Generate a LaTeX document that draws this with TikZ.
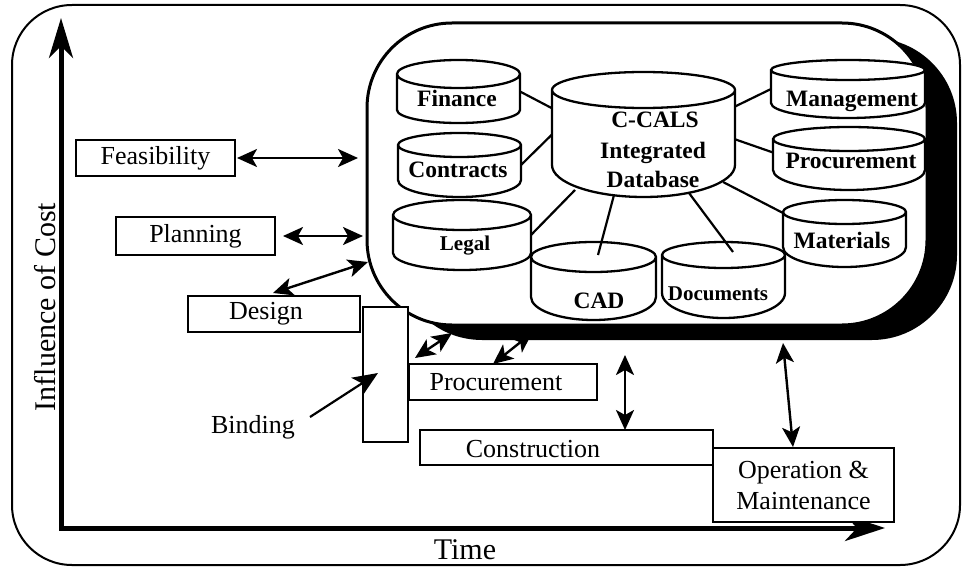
\documentclass[tikz,border=0pt]{standalone}
\usepackage{fontspec}
\setmainfont{Liberation Serif}
\usetikzlibrary{calc,arrows.meta}

\newcommand\dbcyl[3]{%
  \draw[cylline] let \p1=(#1.north west), \p2=(#1.south east), \n1={(\x2-\x1)/2} in
    (\x1,\y1-#2pt) -- (\x1,\y2+#3pt)
    arc[start angle=180,end angle=360,x radius=\n1,y radius=#3pt]
    -- (\x2,\y1-#2pt)
    arc[start angle=0,end angle=180,x radius=\n1,y radius=#2pt] -- cycle
    (\x1,\y1-#2pt) arc[start angle=180,end angle=360,x radius=\n1,y radius=#2pt];}

\newcommand\mkcyl[7]{%
  \node[cylbox, minimum width={(#4-#2)*1pt}, minimum height={(#5-#3)*1pt}] (#1) at ({(#2+#4)/2},{(#3+#5)/2}) {};
  \dbcyl{#1}{#6}{#7}}

\begin{document}
\begin{tikzpicture}[x=1pt,y=-1pt,
  every node/.style={inner sep=0pt, outer sep=0pt},
  cylbox/.style={draw=none},
  cylline/.style={draw, line width=2.3pt, fill=white},
  box/.style={draw, line width=2.5pt, fill=white, font=\fontsize{26}{31}\selectfont},
  dblab/.style={font=\fontsize{23.5}{29}\selectfont\bfseries},
  conn/.style={line width=2.2pt},
  dbl/.style={line width=2.4pt, {Stealth[length=20pt,width=18pt,inset=5pt]}-{Stealth[length=20pt,width=18pt,inset=5pt]}},
  sgl/.style={line width=2.2pt, -{Stealth[length=25pt,width=21pt,inset=6pt]}},
  axis/.style={line width=5pt, {Stealth[length=40pt,width=24pt,inset=12pt]}-{Stealth[length=40pt,width=26pt,inset=12pt]}},
  big/.style={font=\fontsize{30}{34}\selectfont}
]
\useasboundingbox (0,0) rectangle (963,567);
\fill[white] (0,0) rectangle (963,567);

% outer frame
\node[draw, line width=2pt, rounded corners=60pt, minimum width=948pt, minimum height=560pt] (frame) at (486,285) {};

% database container with shadow
\node[fill=black, rounded corners=85pt, minimum width=560pt, minimum height=302pt] (shadow) at (677,189) {};
\node[draw, line width=3pt, fill=white, rounded corners=85pt, minimum width=560pt, minimum height=302pt] (cont) at (647,174) {};

% cylinders
\mkcyl{fin}{397}{60}{520}{123}{14}{13}
\mkcyl{con}{398}{133}{521}{197}{12}{17}
\mkcyl{leg}{393}{200}{531}{270}{15}{17}
\mkcyl{cad}{531}{242}{656}{320}{15}{23}
\mkcyl{doc}{662}{242}{785}{318}{13}{25}
\mkcyl{mat}{783}{200}{906}{267}{12}{20}
\mkcyl{pro}{773}{127}{925}{190}{12}{20}
\mkcyl{man}{771}{60}{925}{118}{10}{15}
\mkcyl{cen}{552}{72}{735}{197}{18}{32}

% connectors from central database
\draw[conn] (cen.164) -- (fin.east);
\draw[conn] (cen.west) -- (con.east);
\draw[conn] ($(cen.south west)+(23,-7)$) -- (leg.east);
\draw[conn] ($(cen.south)+(-29.5,-2)$) -- ($(cad.north)+(4.5,13)$);
\draw[conn] ($(cen.south)+(45.5,-4)$) -- ($(doc.north)+(9.5,10)$);
\draw[conn] ($(cen.south east)+(-12,-15)$) -- ($(mat.north west)+(0,13)$);
\draw[conn] (cen.-3) -- ($(pro.west)+(0,-6)$);
\draw[conn] (cen.17) -- (man.west);

% database labels
\node[dblab, anchor=base] (finl) at (457,107) {Finance};
\node[dblab, anchor=base] (conl) at (458,177) {Contracts};
\node[dblab, anchor=base, font=\fontsize{21}{25}\selectfont\bfseries] (legl) at (465,250) {Legal};
\node[dblab, anchor=base] (cadl) at (599,308) {CAD};
\node[dblab, anchor=base, font=\fontsize{21}{25}\selectfont\bfseries] (docl) at (718,300) {Documents};
\node[dblab, anchor=base] (matl) at (842,248) {Materials};
\node[dblab, anchor=base] (prol) at (851,168) {Procurement};
\node[dblab, anchor=base] (manl) at (852,107) {Management};
\node[dblab, anchor=base] (cen1) at (655,128) {C-CALS};
\node[dblab, anchor=base] (cen2) at (653,158) {Integrated};
\node[dblab, anchor=base] (cen3) at (653,187) {Database};

% axes
\coordinate (orig) at (61,528);
\coordinate (ytip) at (61,18);
\coordinate (xtip) at (885,528);
\draw[axis] (ytip) -- (orig) -- (xtip);
\node[big, rotate=90] (ylab) at (45,307) {Influence of Cost};
\node[big, anchor=base] (xlab) at (465,559) {Time};

% phase boxes
\node[box, minimum width=159pt, minimum height=36pt] (feas) at (155.5,158) {Feasibility};
\node[box, minimum width=159pt, minimum height=38pt] (plan) at (195.5,236) {Planning};
\node[box, minimum width=172pt, minimum height=36pt] (design) at (274,314) {};
\node[font=\fontsize{26}{31}\selectfont] (designl) at (266,314) {Design};
\node[box, minimum width=45pt, minimum height=135pt] (binding) at (385.5,374.5) {};
\node[box, minimum width=188pt, minimum height=36pt] (proc) at (503,382) {};
\node[font=\fontsize{26}{31}\selectfont] (procl) at (496,382) {Procurement};
\node[box, minimum width=293pt, minimum height=35pt] (constr) at (566.5,447.5) {};
\node[font=\fontsize{26}{31}\selectfont] (constrl) at (533,449) {Construction};
\node[box, minimum width=181pt, minimum height=74pt, align=center] (om) at (803.5,485) {Operation \&\\Maintenance};
\node[font=\fontsize{26}{31}\selectfont, anchor=base] (bindl) at (253,433) {Binding};

% arrows
\draw[dbl, shorten <=2pt, shorten >=9pt] (feas.east) -- (feas.east -| cont.west);
\draw[dbl, shorten <=8pt, shorten >=4pt] (plan.east) -- (plan.east -| cont.west);
\draw[dbl] ($(design.north)+(-1,-3)$) -- ($(cont.west)+(1,88)$);
\coordinate (bindstart) at (310,417);
\draw[sgl] (bindstart) -- ($(binding.center)+(-7.5,-1.5)$);
\coordinate (a1) at (452,333);
\draw[dbl] (a1) -- ($(binding.north east)+(7,51)$);
\coordinate (b1) at (532,333);
\draw[dbl] (b1) -- ($(proc.north west)+(84,0)$);
\draw[dbl] ($(constr.north west)+(205,-75)$) -- ($(constr.north west)+(205,0)$);
\draw[dbl] ($(om.north west)+(70,-105)$) -- ($(om.north west)+(80,-1)$);
\end{tikzpicture}
\end{document}
